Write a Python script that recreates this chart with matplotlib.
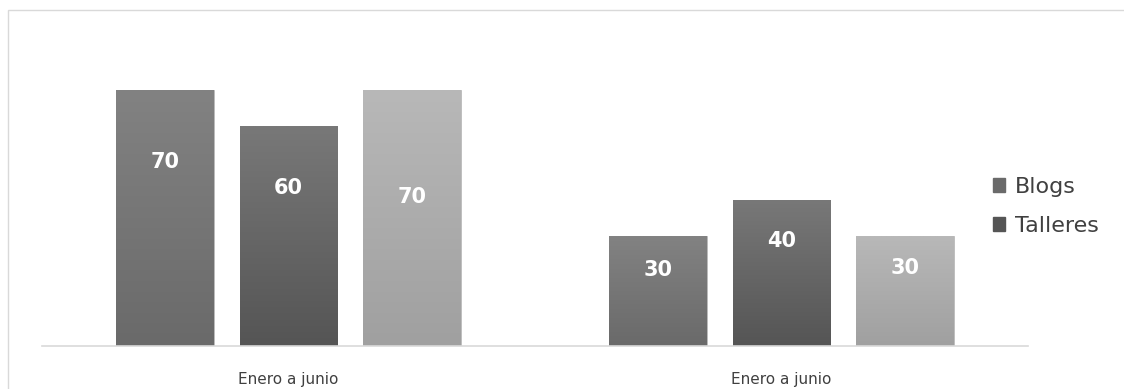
import numpy as np
import matplotlib.pyplot as plt
from matplotlib.patches import Rectangle

# Datos
categorias = ['Enero a junio', 'Enero a junio']
series = ['Blogs', 'Talleres', 'Serie 3']
valores = [
    [70, 30],   # Blogs
    [60, 40],   # Talleres
    [70, 30],   # Serie 3
]
# altura relativa de la etiqueta dentro de cada barra
pos_etiqueta = [
    [0.72, 0.69],
    [0.72, 0.72],
    [0.58, 0.71],
]

# Colores del degradado (arriba, abajo)
colores = [('#828282', '#6a6a6a'), ('#787878', '#555555'), ('#b8b8b8', '#a0a0a0')]

fig = plt.figure(figsize=(11.24, 3.89), dpi=100)
ax = fig.add_axes([42/1124, 43/389, 986/1124, 292.8/389])

x = np.arange(len(categorias))
ancho = 0.198
desp = 0.25

for i, serie in enumerate(series):
    xs = x + (i - 1) * desp
    barras = ax.bar(xs, valores[i], ancho, color=colores[i][1],
                    edgecolor='#bdbdbd', linewidth=0.6, zorder=2)
    # Degradado vertical dentro de cada barra
    grad = np.linspace(0, 1, 100).reshape(-1, 1)
    cmap = plt.matplotlib.colors.LinearSegmentedColormap.from_list(
        'g%d' % i, [colores[i][1], colores[i][0]])
    for b, v, f in zip(barras, valores[i], pos_etiqueta[i]):
        x0 = b.get_x()
        im = ax.imshow(grad, extent=[x0, x0 + ancho, 0, v], origin='lower',
                       cmap=cmap, aspect='auto', zorder=2.5)
        im.set_clip_path(b)
        ax.text(b.get_x() + ancho / 2, v * f, str(v), ha='center', va='center',
                color='white', fontsize=15, fontweight='bold', zorder=4)

ax.set_xlim(-0.5, 1.5)
ax.set_ylim(0, 80)
ax.set_yticks([])
ax.set_xticks(x)
ax.set_xticklabels(categorias, fontsize=11, color='#404040')
ax.tick_params(axis='x', length=0, pad=19)
for s in ['top', 'right', 'left']:
    ax.spines[s].set_visible(False)
ax.spines['bottom'].set_color('#d9d9d9')
ax.spines['bottom'].set_linewidth(1.2)

# Leyenda (solo dos entradas visibles)
handles = [Rectangle((0, 0), 1, 1, color=colores[0][1]),
           Rectangle((0, 0), 1, 1, color=colores[1][1])]
fig.legend(handles, series[:2], loc='upper left', bbox_to_anchor=(973/1124, 1 - 157/389),
           frameon=False, fontsize=16, labelcolor='#404040', handlelength=0.55,
           handleheight=0.55, handletextpad=0.45, labelspacing=0.85)

# Borde del área del gráfico
fig.add_artist(Rectangle((8/1124, -0.1), 1.2, 1 - 10/389 + 0.1,
                         transform=fig.transFigure, fill=False,
                         edgecolor='#d9d9d9', linewidth=1))

fig.savefig('out.png', dpi=100)
